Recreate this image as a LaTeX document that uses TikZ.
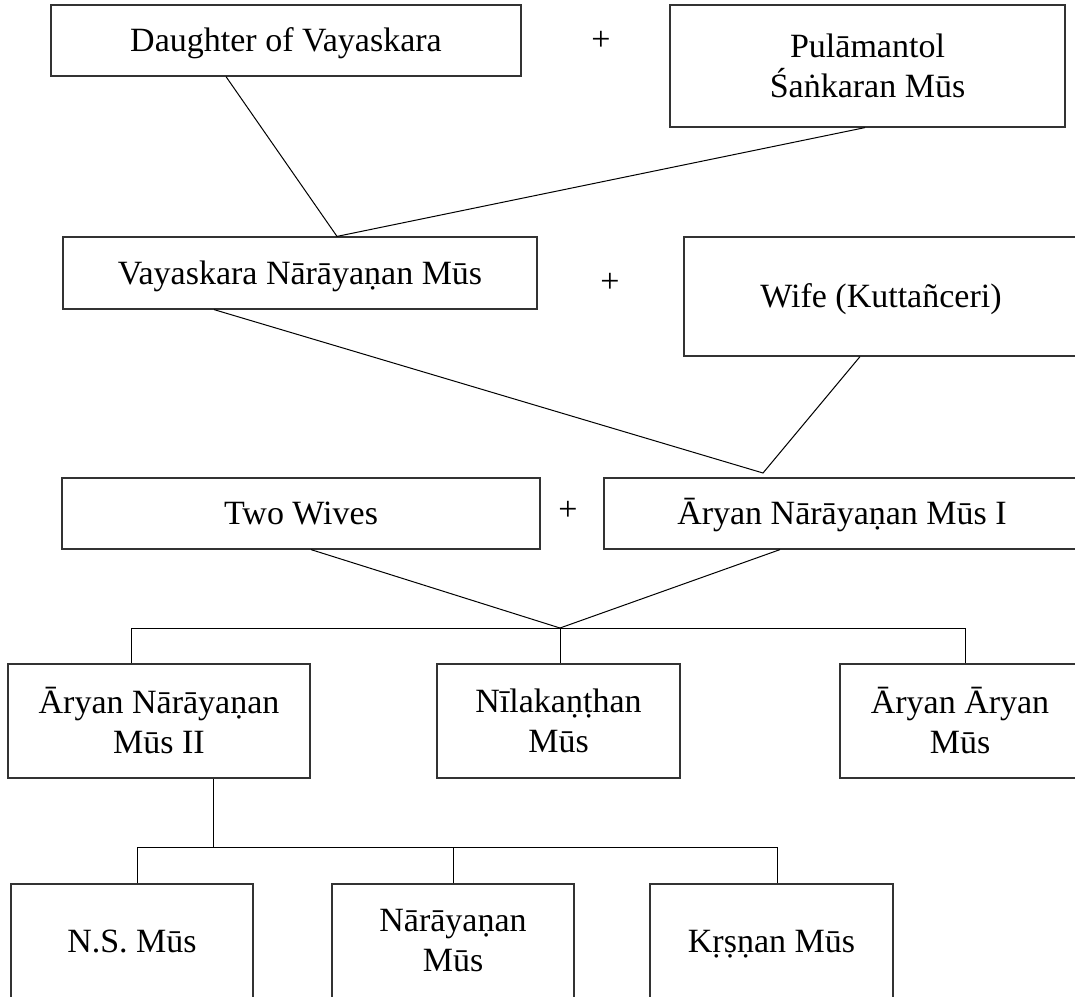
\documentclass[tikz,border=0pt]{standalone}
\usepackage{fontspec}
\setmainfont{Liberation Serif}
\newcommand\boxfont{\fontsize{34}{40}\selectfont}
\begin{document}
\begin{tikzpicture}[x=1pt,y=-1pt,
  box/.style={draw=black!80, line width=1.2pt, rectangle, inner sep=0pt, align=center, font=\boxfont},
  oneline/.style={text height=22.5pt, text depth=0pt},
  conn/.style={line width=1pt, draw=black},
  plus/.style={inner sep=0pt, font=\boxfont}]
\useasboundingbox (0,0) rectangle (1075,996);
\clip (0,0) rectangle (1075,996);
% generation 1
\node[box, oneline, minimum width=470, minimum height=71] (b1) at (286,40.5) {Daughter of Vayaskara};
\node[plus] (p1) at (601,41) {+};
\node[box, minimum width=395, minimum height=122] (b2) at (867.5,66) {Pulāmantol\\Śaṅkaran Mūs};
% generation 2
\node[box, oneline, minimum width=474, minimum height=72] (b3) at (300,273) {Vayaskara Nārāyaṇan Mūs};
\node[plus] (p2) at (610,283) {+};
\node[box, oneline, minimum width=394, minimum height=119] (b4) at (881,296.5) {Wife (Kuttañceri)};
% generation 3
\node[box, oneline, minimum width=478, minimum height=71] (b5) at (301,513.5) {Two Wives};
\node[plus] (p3) at (568,511) {+};
\node[box, oneline, minimum width=476, minimum height=71] (b6) at (842,513.5) {Āryan Nārāyaṇan Mūs I};
% generation 4
\node[box, minimum width=302, minimum height=114] (b7) at (159,721) {Āryan Nārāyaṇan\\Mūs II};
\node[box, minimum width=243, minimum height=114] (b8) at (558.5,721) {Nīlakaṇṭhan\\Mūs};
\node[box, minimum width=240, minimum height=114] (b9) at (960,721) {Āryan Āryan\\Mūs};
% generation 5
\node[box, oneline, minimum width=242, minimum height=114] (b10) at (132,941) {N.S. Mūs};
\node[box, minimum width=242, minimum height=114] (b11) at (453,941) {Nārāyaṇan\\Mūs};
\node[box, oneline, minimum width=243, minimum height=114] (b12) at (771.5,941) {Kṛṣṇan Mūs};
% junctions
\coordinate (j1) at (b3.north -| 337,0);
\coordinate (j2) at (763,473);
\coordinate (j3) at (560,628);
\coordinate (bus1l) at (131,628);
\coordinate (bus1r) at (965,628);
\coordinate (j4) at (213,847);
\coordinate (bus2l) at (137,847);
\coordinate (bus2r) at (777,847);
% connectors
\draw[conn] (b1.south -| 226,0) -- (j1) -- (b2.south -| 865,0);
\draw[conn] (b3.south -| 214,0) -- (j2) -- (b4.south -| 860,0);
\draw[conn] (b5.south -| 311,0) -- (j3) -- (b6.south -| 780,0);
\draw[conn] (b7.north -| bus1l) -- (bus1l) -- (bus1r) -- (b9.north -| bus1r);
\draw[conn] (j3) -- (b8.north -| j3);
\draw[conn] (b7.south -| j4) -- (j4);
\draw[conn] (b10.north -| bus2l) -- (bus2l) -- (bus2r) -- (b12.north -| bus2r);
\draw[conn] (b11.north) -- (b11.north |- bus2l);
\end{tikzpicture}
\end{document}
